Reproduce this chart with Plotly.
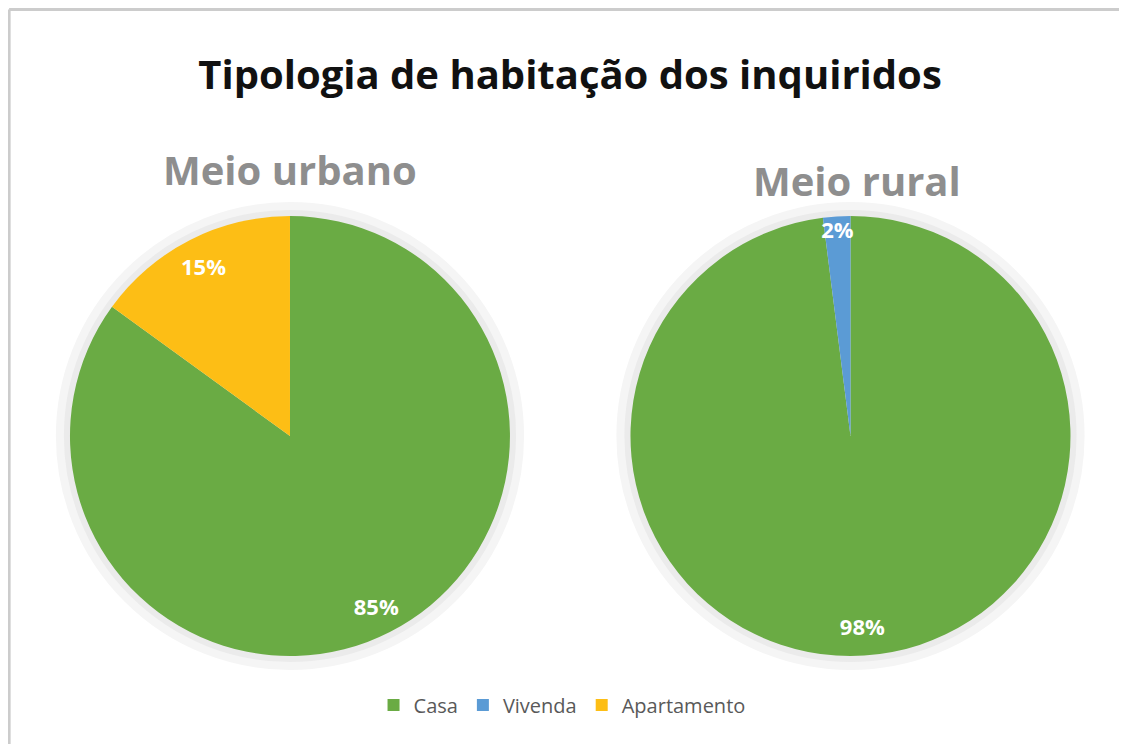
import plotly.graph_objects as go

# données
categories = ["Casa", "Vivenda", "Apartamento"]
urbano = [85, 0, 15]
rural = [98, 2, 0]
cores = ["#6aab44", "#5b9bd5", "#fdbe15"]

# la page a une marge de 8 px : positions exprimées en fraction du papier
dom_urbano = [0.055, 0.4454]
dom_rural = [0.5457, 0.9494]
dom_y = [0.129, 0.7204]

fig = go.Figure()

# ombre légère derrière chaque camembert
for dom in ([0.0461, 0.4543], [0.5368, 0.9583]):
    fig.add_trace(go.Pie(
        values=[1], labels=["sombra"], domain=dict(x=dom, y=[0.1156, 0.7339]),
        marker=dict(colors=["#ebebeb"], line=dict(color="#f5f5f5", width=8)),
        textinfo="none", hoverinfo="skip", showlegend=False, sort=False))

for nome, vals, dom, leg in [("Meio urbano", urbano, dom_urbano, True),
                             ("Meio rural", rural, dom_rural, False)]:
    fig.add_trace(go.Pie(
        labels=categories, values=vals, name=nome,
        domain=dict(x=dom, y=dom_y),
        marker=dict(colors=cores), sort=False, direction="clockwise", rotation=0,
        textinfo="none", showlegend=leg,
    ))
    # anneau transparent pour placer les pourcentages près du bord
    fig.add_trace(go.Pie(
        labels=categories, values=vals, name=nome,
        domain=dict(x=dom, y=dom_y), hole=0.73,
        marker=dict(colors=["rgba(0,0,0,0)"] * 3), sort=False,
        direction="clockwise", rotation=0,
        text=[f"{v}%" if v else "" for v in vals], textinfo="text",
        textposition="inside", insidetextorientation="horizontal",
        textfont=dict(color="white", size=22, family="Open Sans", weight="bold"),
        hoverinfo="skip", showlegend=False,
    ))

fig.update_layout(
    width=1127, height=744,
    margin=dict(l=0, r=0, t=0, b=0, autoexpand=False),
    paper_bgcolor="white",
    font=dict(family="Open Sans", color="#595959"),
    title=dict(text="<b>Tipologia de habitação dos inquiridos</b>",
               x=0.4987, xanchor="center", y=0.91, yanchor="middle",
               font=dict(size=40, color="#111111")),
    legend=dict(orientation="h", x=0.4916, xanchor="center", y=0.0632, yanchor="middle",
                font=dict(size=20, color="#595959"), itemwidth=30,
                traceorder="normal"),
    uniformtext=dict(minsize=22, mode="show"),
)

fig.add_annotation(text="<b>Meio urbano</b>", x=0.2502, y=0.7823, xref="paper", yref="paper",
                   xanchor="center", yanchor="middle",
                   showarrow=False, font=dict(size=40, color="#8e8e8e"))
fig.add_annotation(text="<b>Meio rural</b>", x=0.7533, y=0.7688, xref="paper", yref="paper",
                   xanchor="center", yanchor="middle",
                   showarrow=False, font=dict(size=40, color="#8e8e8e"))

# cadre gris (haut et gauche)
fig.add_shape(type="line", x0=0.001, x1=1, y0=0.998, y1=0.998, xref="paper", yref="paper",
              line=dict(color="#cccccc", width=3))
fig.add_shape(type="line", x0=0.001, x1=0.001, y0=0, y1=0.998, xref="paper", yref="paper",
              line=dict(color="#cccccc", width=3))

fig.write_html("out.html")
